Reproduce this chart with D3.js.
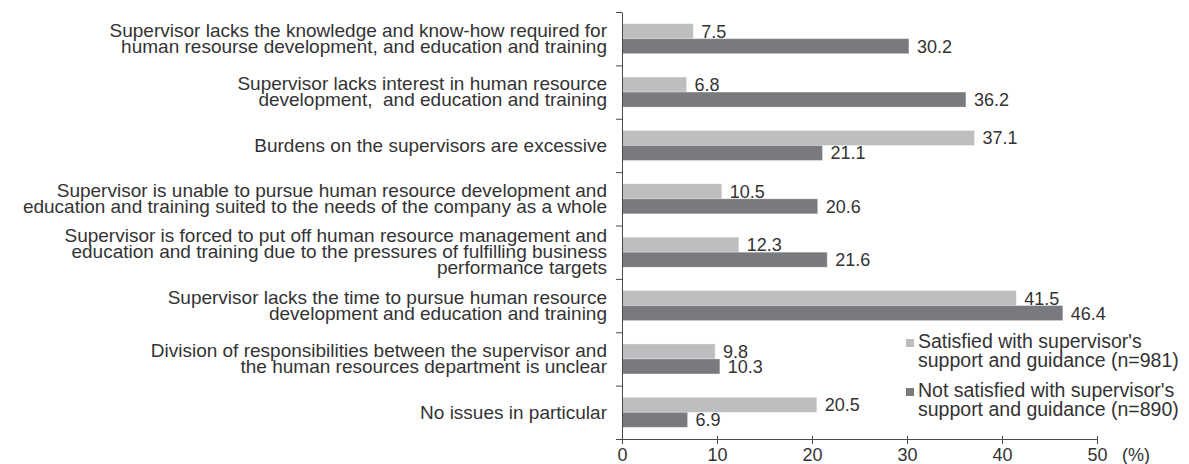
<!DOCTYPE html>
<html>
<head>
<meta charset="utf-8">
<script src="https://cdn.jsdelivr.net/npm/d3@7"></script>
<style>
  html, body { margin: 0; padding: 0; background: #fff; }
  svg { display: block; font-family: "Liberation Sans", Arial, Helvetica, sans-serif; }
  text { fill: #333; white-space: pre; }
</style>
</head>
<body>
<script>
// ---- Data ----
const categories = [
  ["Supervisor lacks the knowledge and know-how required for", "human resourse development, and education and training"],
  ["Supervisor lacks interest in human resource", "development,  and education and training"],
  ["Burdens on the supervisors are excessive"],
  ["Supervisor is unable to pursue human resource development and", "education and training suited to the needs of the company as a whole"],
  ["Supervisor is forced to put off human resource management and", "education and training due to the pressures of fulfilling business", "performance targets"],
  ["Supervisor lacks the time to pursue human resource", "development and education and training"],
  ["Division of responsibilities between the supervisor and", "the human resources department is unclear"],
  ["No issues in particular"]
];
const satisfied    = [7.5, 6.8, 37.1, 10.5, 12.3, 41.5, 9.8, 20.5];
const notSatisfied = [30.2, 36.2, 21.1, 20.6, 21.6, 46.4, 10.3, 6.9];
const seriesKeys = ["satisfied", "notSatisfied"];
const seriesLabels = [
  ["Satisfied with supervisor's", "support and guidance (n=981)"],
  ["Not satisfied with supervisor's", "support and guidance (n=890)"]
];
const seriesColors = ["#bdbec0", "#797a7d"];
const xTicks = [0, 10, 20, 30, 40, 50];
const unitLabel = "(%)";

// ---- Chart ----
const W = 1189, H = 464;
const svg = d3.select("body").append("svg").attr("width", W).attr("height", H);

const x = d3.scaleLinear().domain([0, 50]).range([622, 1097]);
const y = d3.scaleBand().domain(d3.range(categories.length)).range([12, 439]).padding(0);
const bw = y.bandwidth();
const inner = d3.scaleBand().domain(seriesKeys).range([bw / 2 - 15, bw / 2 + 15]).padding(0);
const color = d3.scaleOrdinal().domain(seriesKeys).range(seriesColors);

const rows = categories.map((c, i) => ({ i, lines: c, satisfied: satisfied[i], notSatisfied: notSatisfied[i] }));

// bars
const g = svg.append("g");
rows.forEach(r => {
  seriesKeys.forEach(k => {
    const v = r[k];
    g.append("rect")
      .attr("x", x(0))
      .attr("y", y(r.i) + inner(k))
      .attr("width", x(v) - x(0))
      .attr("height", inner.bandwidth())
      .attr("fill", color(k))
      .attr("stroke", "#ffffff")
      .attr("stroke-opacity", 0.35)
      .attr("stroke-width", 0.8);
    g.append("text")
      .attr("x", x(v) + 8)
      .attr("y", y(r.i) + inner(k) + inner.bandwidth() / 2)
      .attr("dy", "0.36em")
      .attr("font-size", 18)
      .text(v.toFixed(1));
  });
});

// y axis (boundary ticks)
const yb = d3.scaleLinear().domain([0, categories.length]).range([12, 439]);
const yAxis = svg.append("g")
  .attr("transform", `translate(${x(0)},0)`)
  .call(d3.axisLeft(yb).tickValues(d3.range(categories.length + 1)).tickSize(6).tickSizeOuter(0).tickFormat(""));
yAxis.select(".domain").attr("stroke", "#4a4a4a");
yAxis.selectAll(".tick line").attr("stroke", "#4a4a4a");

// category labels
rows.forEach(r => {
  const n = r.lines.length;
  const lh = 16;
  const cy = y(r.i) + bw / 2;
  const t = svg.append("text")
    .attr("text-anchor", "end")
    .attr("font-size", 19);
  r.lines.forEach((ln, j) => {
    t.append("tspan")
      .attr("x", 607)
      .attr("y", cy + (j - (n - 1) / 2) * lh)
      .attr("dy", "0.33em")
      .text(ln);
  });
});

// x axis
const xAxis = svg.append("g")
  .attr("transform", `translate(0,439)`)
  .call(d3.axisBottom(x).tickValues(xTicks).tickSize(5).tickSizeOuter(0).tickPadding(4));
xAxis.select(".domain").attr("stroke", "#4a4a4a");
xAxis.selectAll(".tick line").attr("stroke", "#4a4a4a").attr("y1", -3);
xAxis.selectAll(".tick text").attr("font-size", 18).attr("fill", "#333")
  .attr("font-family", "\"Liberation Sans\", Arial, Helvetica, sans-serif");
svg.append("text")
  .attr("x", x(50) + 25)
  .attr("y", 448)
  .attr("dy", "0.71em")
  .attr("font-size", 18)
  .text(unitLabel);

// legend
const legendTop = [339, 388];
seriesKeys.forEach((k, i) => {
  svg.append("rect")
    .attr("x", 906).attr("y", legendTop[i])
    .attr("width", 8).attr("height", 8)
    .attr("fill", color(k));
  const t = svg.append("text").attr("font-size", 19.5);
  seriesLabels[i].forEach((ln, j) => {
    t.append("tspan")
      .attr("x", 918)
      .attr("y", legendTop[i] + 9 + j * 19)
      .text(ln);
  });
});
</script>
</body>
</html>
